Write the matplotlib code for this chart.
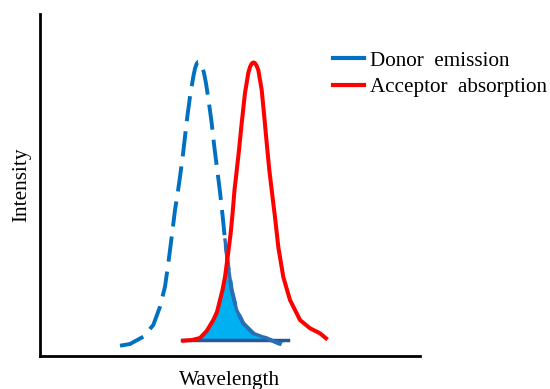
import matplotlib.pyplot as plt
import numpy as np

# curves (wavelength, intensity in arbitrary units)
donor_wl = [120, 130, 143.3, 153.3, 160, 165, 168.3, 171.7, 175, 177.7, 180, 182.7,
            185, 187.3, 190, 193.3, 195, 196.5, 198, 199.5, 201, 202.5, 204, 206, 209,
            211.7, 214.3, 217, 220, 222.7, 225, 228.3, 231.7, 236.7, 243.3, 253.3,
            266.7, 280]
donor_int = [10.3, 12, 19.3, 31, 49.3, 69.3, 92.7, 119.3, 146, 163, 179.3, 199.3,
             219.3, 239.3, 259.3, 279.3, 287.5, 292, 294, 294, 292, 288.5, 283, 272.7,
             252.7, 232.7, 209.3, 188, 164, 139.3, 116, 89.3, 66, 46, 32.7, 22.7,
             17.7, 12]

acceptor_wl = [183.3, 192, 200, 206.7, 213.3, 217, 220, 222.5, 225, 228.3, 230.7, 232.7,
               234.5, 236, 239, 241.7, 245, 248.3, 250, 251.8, 253.3, 254.8, 256.5,
               258.3, 261.7, 264.3, 266.7, 269.3, 271.7, 273.5, 275, 278.3, 283.3, 290,
               300, 310, 320, 326]
acceptor_int = [15.3, 16, 18, 25, 36, 44, 56, 66, 79, 104, 123, 144,
                166, 179, 206, 233, 263, 283, 289, 292.5, 293.5, 293, 290.5,
                286, 266, 239, 213, 186, 166, 151, 139, 109, 79, 56,
                36, 27.7, 22.7, 17.7]

overlap_base = 16
overlap_range = [182, 288]
crossing_wl = 227.3

plt.rcParams["font.family"] = ["Liberation Serif", "DejaVu Serif"]

fig = plt.figure(figsize=(5.5, 3.89), dpi=100)
ax = fig.add_axes([40 / 550, 33 / 389, 380 / 550, 342 / 389])

dw = np.array(donor_wl)
di = np.array(donor_int)
aw = np.array(acceptor_wl)
ai = np.array(acceptor_int)

# overlap polygon: acceptor rising edge, then donor falling edge
left = aw <= crossing_wl
right = (dw >= crossing_wl) & (dw <= overlap_range[1])
poly_x = np.concatenate([aw[left], dw[right], [overlap_range[1]]])
poly_y = np.concatenate([ai[left], di[right], [overlap_base]])
ax.fill(poly_x, poly_y, color="#00B0F0", zorder=1, lw=0)
ax.plot(overlap_range, [overlap_base, overlap_base], color="#2F5597", lw=2.5, zorder=2)

ax.plot(dw, di, color="#0070C0", lw=2.8, dashes=(6.5, 2.6), zorder=3,
        dash_capstyle="butt", dash_joinstyle="round")
solid = dw >= crossing_wl - 3
ax.plot(dw[solid], di[solid], color="#2E6DB4", lw=2.4, zorder=3, solid_joinstyle="round")
ax.plot(aw, ai, color="#FF0000", lw=2.9, zorder=4, solid_joinstyle="round")

ax.set_xlim(40, 420)
ax.set_ylim(0, 342)
ax.set_xticks([])
ax.set_yticks([])
for side in ["top", "right"]:
    ax.spines[side].set_visible(False)
for side in ["left", "bottom"]:
    ax.spines[side].set_linewidth(2)

ax.set_xlabel("Wavelength", fontsize=15.3, labelpad=11)
ax.set_ylabel("Intensity", fontsize=15.3, labelpad=6)

handles = [plt.Line2D([], [], color="#0070C0", lw=3),
           plt.Line2D([], [], color="#FF0000", lw=3)]
ax.legend(handles, ["Donor  emission", "Acceptor  absorption"], loc="upper left",
          bbox_to_anchor=(293 / 380, 1 - 37 / 342), frameon=False, fontsize=15.2,
          handlelength=1.45, handletextpad=0.28, labelspacing=0.32, borderpad=0,
          borderaxespad=0)

fig.savefig("out.png", dpi=100)
